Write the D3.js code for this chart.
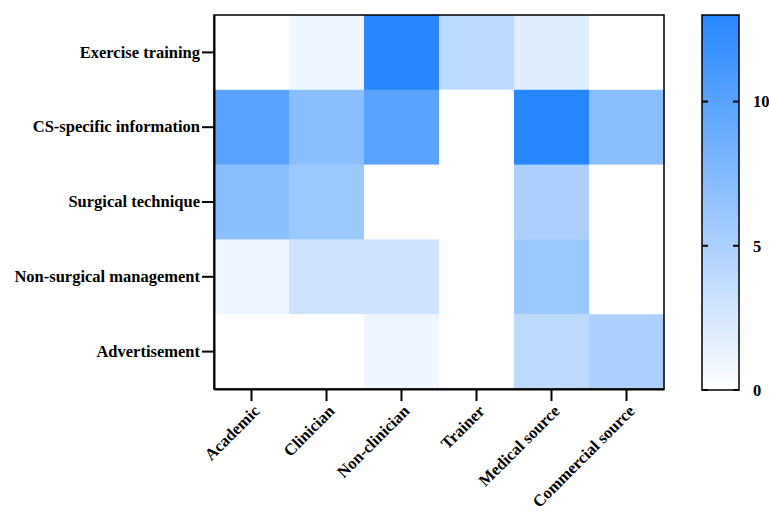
<!DOCTYPE html>
<html>
<head>
<meta charset="utf-8">
<script src="https://cdn.jsdelivr.net/npm/d3@7"></script>
<style>
  html, body { margin: 0; padding: 0; background: #fff; }
</style>
</head>
<body>
<svg id="chart" width="769" height="512"></svg>
<script>
// Information sources (columns) and content topics (rows)
const sources = ["Academic", "Clinician", "Non-clinician", "Trainer", "Medical source", "Commercial source"];
const topics = ["Exercise training", "CS-specific information", "Surgical technique", "Non-surgical management", "Advertisement"];

// Counts per topic, one array per row in source order
const exerciseTraining    = [0, 1, 13, 4, 2, 0];
const csSpecificInfo      = [10, 7, 10, 0, 13, 7];
const surgicalTechnique   = [7, 6, 0, 0, 5, 0];
const nonSurgicalMgmt     = [1, 3, 3, 0, 6, 0];
const advertisement       = [0, 0, 1, 0, 4, 5];

const colorTicks = [0, 5, 10];
const colorMax = 13;

const FONT = "'Liberation Serif', 'Times New Roman', serif";
const FONT_SIZE = 16.5;

const rows = [exerciseTraining, csSpecificInfo, surgicalTechnique, nonSurgicalMgmt, advertisement];
const cells = [];
rows.forEach((vals, r) => vals.forEach((v, c) => cells.push({ topic: topics[r], source: sources[c], value: v })));

const svg = d3.select("#chart");
const plot = { left: 214, right: 664, top: 15, bottom: 389 };

const x = d3.scaleBand().domain(sources).range([plot.left, plot.right]).padding(0);
const y = d3.scaleBand().domain(topics).range([plot.top, plot.bottom]).padding(0);
const color = d3.scaleLinear().domain([0, colorMax]).range(["#ffffff", "#2787ff"]);

// Heatmap cells
svg.append("g").selectAll("rect").data(cells).join("rect")
  .attr("x", d => x(d.source))
  .attr("y", d => y(d.topic))
  .attr("width", x.bandwidth() + 0.5)
  .attr("height", y.bandwidth() + 0.5)
  .attr("fill", d => color(d.value));

// Frame around the plot
svg.append("rect")
  .attr("x", plot.left).attr("y", plot.top)
  .attr("width", plot.right - plot.left).attr("height", plot.bottom - plot.top)
  .attr("fill", "none").attr("stroke", "#000").attr("stroke-width", 1.5);

// Y axis
const yAxis = svg.append("g").attr("transform", `translate(${plot.left},0)`)
  .call(d3.axisLeft(y).tickSize(12).tickSizeOuter(0).tickPadding(2));
yAxis.attr("font-family", FONT).attr("font-weight", "bold").attr("font-size", FONT_SIZE);
yAxis.select(".domain").attr("stroke", "#000").attr("stroke-width", 2);
yAxis.selectAll(".tick line").attr("stroke", "#000").attr("stroke-width", 2);
yAxis.selectAll(".tick text").attr("fill", "#000");

// X axis with rotated labels
const xAxis = svg.append("g").attr("transform", `translate(0,${plot.bottom})`)
  .call(d3.axisBottom(x).tickSize(12).tickSizeOuter(0));
xAxis.attr("font-family", FONT).attr("font-weight", "bold").attr("font-size", FONT_SIZE);
xAxis.select(".domain").attr("stroke", "#000").attr("stroke-width", 2);
xAxis.selectAll(".tick line").attr("stroke", "#000").attr("stroke-width", 2);
xAxis.selectAll(".tick text")
  .attr("fill", "#000")
  .attr("text-anchor", "end")
  .attr("x", 0).attr("y", 0)
  .attr("dy", "0.35em")
  .attr("transform", "translate(5,19) rotate(-45)");

// Color bar
const cb = { left: 702, right: 739, top: 15, bottom: 390 };
const cy = d3.scaleLinear().domain([0, colorMax]).range([cb.bottom, cb.top]);
const defs = svg.append("defs");
const grad = defs.append("linearGradient").attr("id", "cbGrad")
  .attr("x1", 0).attr("y1", 1).attr("x2", 0).attr("y2", 0);
grad.append("stop").attr("offset", 0).attr("stop-color", color(0));
grad.append("stop").attr("offset", 1).attr("stop-color", color(colorMax));

svg.append("rect")
  .attr("x", cb.left).attr("y", cb.top)
  .attr("width", cb.right - cb.left).attr("height", cb.bottom - cb.top)
  .attr("fill", "url(#cbGrad)").attr("stroke", "#000").attr("stroke-width", 1.5);

const cbTicks = svg.append("g")
  .attr("font-family", FONT).attr("font-weight", "bold").attr("font-size", FONT_SIZE);
colorTicks.forEach(t => {
  const ty = cy(t);
  cbTicks.append("line").attr("x1", cb.left).attr("x2", cb.left + 6).attr("y1", ty).attr("y2", ty)
    .attr("stroke", "#000").attr("stroke-width", 2);
  cbTicks.append("line").attr("x1", cb.right - 6).attr("x2", cb.right).attr("y1", ty).attr("y2", ty)
    .attr("stroke", "#000").attr("stroke-width", 2);
  cbTicks.append("text").attr("x", cb.right + 14).attr("y", ty).attr("dy", "0.35em")
    .attr("fill", "#000").text(t);
});
</script>
</body>
</html>
